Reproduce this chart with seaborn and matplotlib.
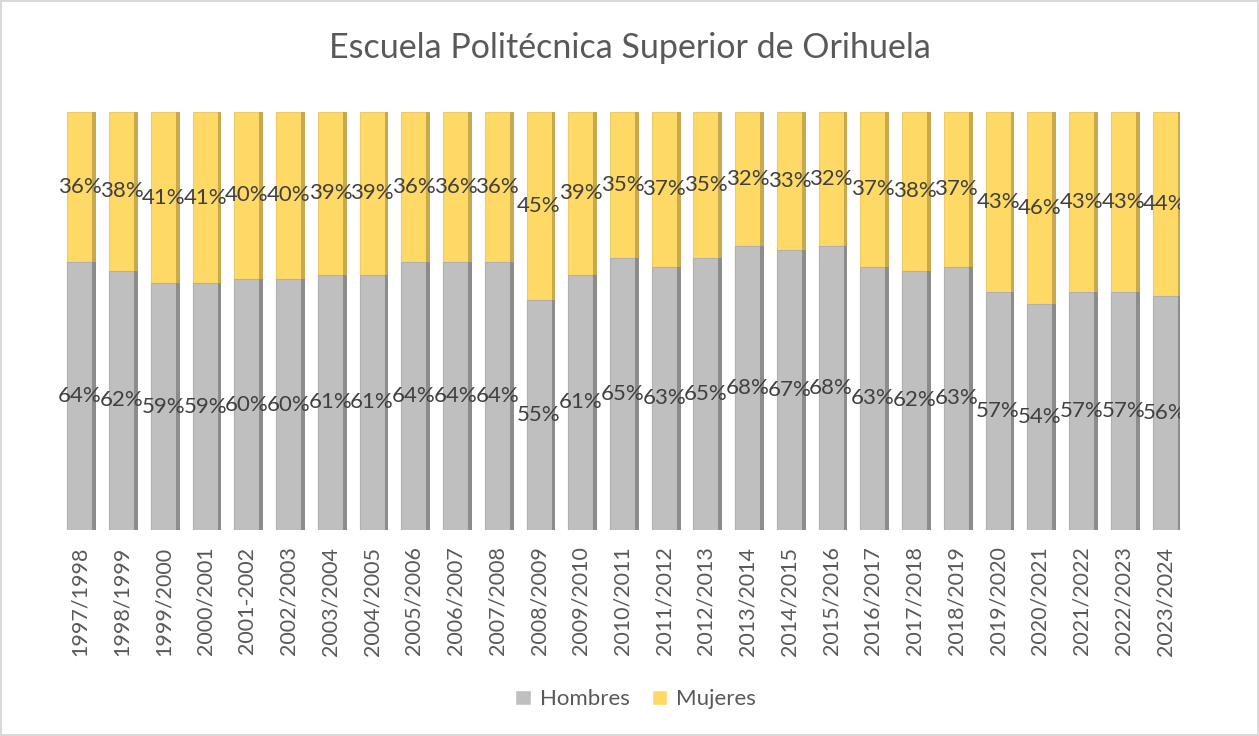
import pandas as pd
import seaborn as sns
import matplotlib.pyplot as plt
from matplotlib.patches import Patch, Rectangle

# data
cursos = ['1997/1998', '1998/1999', '1999/2000', '2000/2001', '2001-2002', '2002/2003',
          '2003/2004', '2004/2005', '2005/2006', '2006/2007', '2007/2008', '2008/2009',
          '2009/2010', '2010/2011', '2011/2012', '2012/2013', '2013/2014', '2014/2015',
          '2015/2016', '2016/2017', '2017/2018', '2018/2019', '2019/2020', '2020/2021',
          '2021/2022', '2022/2023', '2023/2024']
hombres = [64, 62, 59, 59, 60, 60, 61, 61, 64, 64, 64, 55, 61, 65, 63, 65, 68, 67, 68,
           63, 62, 63, 57, 54, 57, 57, 56]
mujeres = [36, 38, 41, 41, 40, 40, 39, 39, 36, 36, 36, 45, 39, 35, 37, 35, 32, 33, 32,
           37, 38, 37, 43, 46, 43, 43, 44]

df = pd.DataFrame({'curso': cursos, 'Hombres': hombres, 'Mujeres': mujeres})
df['Hombres'] = df['Hombres'] / 100
df['Mujeres'] = df['Mujeres'] / 100
df['total'] = df['Hombres'] + df['Mujeres']

sns.set_style('white')
plt.rcParams['font.family'] = ['Lato', 'DejaVu Sans']

gris = '#BFBFBF'
amarillo = '#FFD966'
texto = '#404040'

fig = plt.figure(figsize=(12.59, 7.36), dpi=100)
fig.patch.set_edgecolor('#D9D9D9')
fig.patch.set_linewidth(1.5)
ax = fig.add_axes([0.0469, 0.280, 0.8901, 0.568])

sns.barplot(data=df, x='curso', y='total', color=amarillo, width=0.6,
            edgecolor='#EBCB6A', linewidth=0.8, saturation=1, ax=ax)
sns.barplot(data=df, x='curso', y='Hombres', color=gris, width=0.6,
            edgecolor='#B0B0B0', linewidth=0.8, saturation=1, ax=ax)

# darker side face for a bit of the 3D look
n = len(cursos)
for k, p in enumerate(list(ax.patches)):
    side = '#C9A94E' if k < n else '#8C8C8C'
    ax.add_patch(Rectangle((p.get_x() + p.get_width(), p.get_y()), 0.09, p.get_height(),
                           facecolor=side, edgecolor='none'))

# data labels centred in each segment (cut at the plot edge like the original)
for i, row in df.iterrows():
    ax.text(i, row['Hombres'] / 2, f"{round(row['Hombres'] * 100)}%",
            ha='center', va='center', fontsize=16, color=texto, clip_on=True)
    ax.text(i, row['Hombres'] + row['Mujeres'] / 2, f"{round(row['Mujeres'] * 100)}%",
            ha='center', va='center', fontsize=16, color=texto, clip_on=True)

ax.set_xlim(-0.5, 26.35)
ax.set_ylim(0, 1)
ax.set_yticks([])
ax.set_xlabel('')
ax.set_ylabel('')
ax.tick_params(axis='x', length=0, pad=12, labelsize=15.5, labelcolor='#595959')
plt.setp(ax.get_xticklabels(), rotation=90)
sns.despine(ax=ax, left=True, bottom=True)

fig.text(0.5, 0.935, 'Escuela Politécnica Superior de Orihuela', ha='center', va='center',
         fontsize=24.5, color='#595959')

handles = [Patch(facecolor=gris, label='Hombres'), Patch(facecolor=amarillo, label='Mujeres')]
fig.legend(handles=handles, loc='center', bbox_to_anchor=(0.505, 0.05), ncol=2,
           frameon=False, fontsize=16, labelcolor='#595959', handlelength=0.7,
           handleheight=0.7, columnspacing=1.0, handletextpad=0.4)

plt.savefig('out.png', dpi=100)
